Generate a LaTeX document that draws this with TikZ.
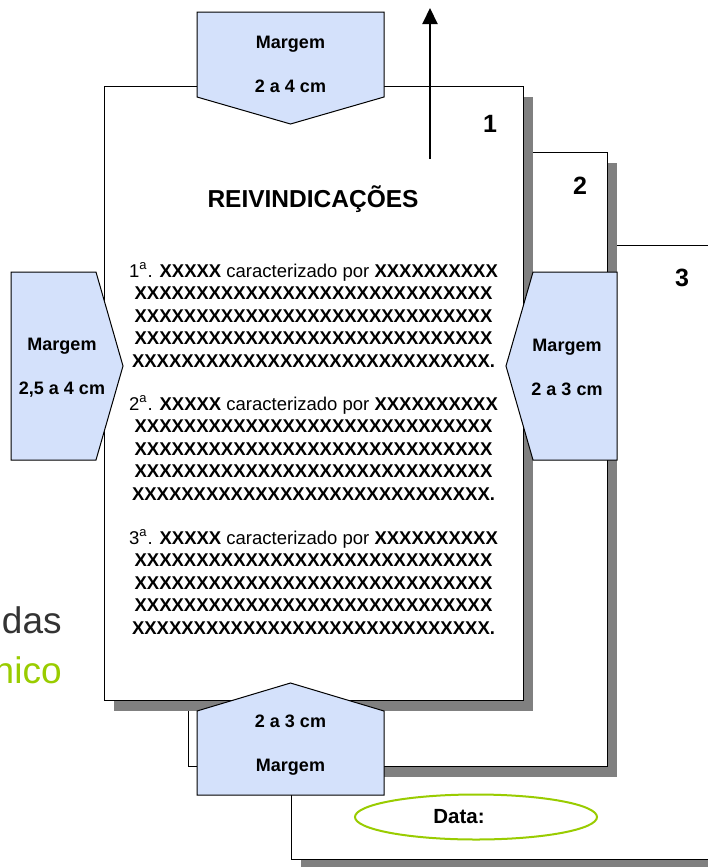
\documentclass[tikz,border=0pt]{standalone}
\usepackage{fontspec}
\setmainfont{Liberation Sans}
\usetikzlibrary{positioning,arrows.meta,shapes.geometric,shadows}
\definecolor{margemfill}{HTML}{D4E1FB}
\definecolor{shadowgray}{HTML}{808080}
\definecolor{limegreen}{HTML}{99CC00}
\definecolor{bgtext}{HTML}{333333}

\newcommand{\xrow}{\textbf{XXXXXXXXXXXXXXXXXXXXXXXXXXXXX}}
\newcommand{\claimblock}[1]{#1\textsuperscript{a}. \textbf{XXXXX} caracterizado por \textbf{XXXXXXXXXX}\\\xrow\\\xrow\\\xrow\\\xrow\textbf{.}}

\begin{document}
\begin{tikzpicture}[
    x=0.5pt, y=-0.5pt,
    >={Triangle[width=7.5pt,length=8pt]},
    pagenode/.style={
        rectangle,
        draw=black,
        line width=0.5pt,
        fill=white,
        minimum width=209.5pt,
        minimum height=307pt,
        general shadow={fill=shadowgray,shadow xshift=5pt,shadow yshift=-5pt},
    },
    margemshape/.style={draw=black,line width=0.5pt,fill=margemfill},
    margemtext/.style={align=center,font=\fontsize{9}{22}\selectfont\bfseries},
    claimtext/.style={align=center,font=\fontsize{9.25}{11.2}\selectfont},
    pagenum/.style={font=\fontsize{12.5}{15}\selectfont\bfseries},
    bgnote/.style={anchor=base east,inner sep=0pt,font=\fontsize{18.5}{20}\selectfont},
]
\useasboundingbox (0,0) rectangle (707,867);

% === Slide text behind ===
\node[bgnote,text=bgtext] (das) at (62,633) {das};
\node[bgnote,text=limegreen] (nico) at (62,683) {nico};

% === Pages ===
\node[pagenode,minimum width=240pt] (page3) at (531,552) {};
\node[pagenode] (page2) at (397.5,459.5) {};
\node[pagenode] (page1) at (313.5,393.5) {};

\node[pagenum] (num1) at (490,124) {1};
\node[pagenum] (num2) at (580,186) {2};
\node[pagenum] (num3) at (682,278) {3};

% === Claims ===
\node[font=\fontsize{12.25}{15}\selectfont\bfseries] (title) at (313,199) {REIVINDICAÇÕES};
\node[claimtext] (claim1) at (313.5,315) {\claimblock{1}};
\node[claimtext] (claim2) at (313.5,448) {\claimblock{2}};
\node[claimtext] (claim3) at (313.5,582) {\claimblock{3}};

% === Arrow ===
\coordinate (arrowfoot) at (430,159);
\coordinate (arrowtip) at (430,8);
\draw[->,line width=1pt] (arrowfoot) -- (arrowtip);

% === Margins ===
\draw[margemshape] (197,12) -- (384,12) -- (384,97) -- (290.5,124) -- (197,97) -- cycle;
\node[margemtext] (mtop) at (290.5,64) {Margem\\2 a 4 cm};

\draw[margemshape] (11,272) -- (96,272) -- (123,366) -- (96,460) -- (11,460) -- cycle;
\node[margemtext] (mleft) at (62,367.5) {Margem\\2,5 a 4 cm};

\draw[margemshape] (617,272) -- (533,272) -- (506,366) -- (533,460) -- (617,460) -- cycle;
\node[margemtext] (mright) at (567,367) {Margem\\2 a 3 cm};

\draw[margemshape] (197,795) -- (384,795) -- (384,711) -- (290.5,683) -- (197,711) -- cycle;
\node[margemtext] (mbottom) at (290.5,745.5) {2 a 3 cm\\Margem};

% === Date field ===
\node[ellipse,draw=limegreen,line width=1pt,minimum width=121pt,minimum height=22.5pt,
    font=\fontsize{10.25}{12}\selectfont\bfseries] (datafield) at (476,817) {Data:\hspace*{17pt}};

\end{tikzpicture}
\end{document}
